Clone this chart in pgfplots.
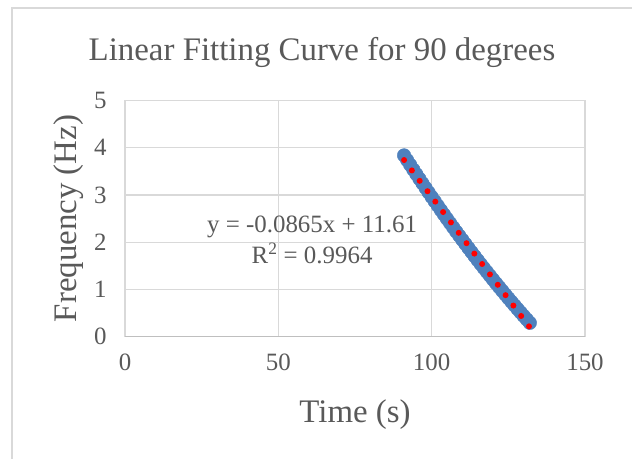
\documentclass[border=0pt]{standalone}
\usepackage{fontspec}
\setmainfont{Liberation Serif}
\usepackage{pgfplots}
\pgfplotsset{compat=1.18}
\definecolor{txt}{HTML}{595959}
\definecolor{grd}{HTML}{D9D9D9}
\definecolor{blu}{HTML}{4F81BD}

\begin{document}
\begin{tikzpicture}[x=1bp,y=1bp]
\useasboundingbox (0,0) rectangle (632,-459);
\fill[white] (0,0) rectangle (632,-459);
\draw[grd, line width=2bp] (12,-8) rectangle (700,-520);
\node[anchor=base, text=txt, font=\fontsize{33}{38}\selectfont] at (322,-60.7) {Linear Fitting Curve for 90 degrees};
\begin{axis}[
  at={(125bp,-336.5bp)}, anchor=south west,
  width=460bp, height=236bp, scale only axis,
  xmin=0, xmax=150, ymin=0, ymax=5,
  xtick={0,50,100,150}, ytick={0,1,2,3,4,5},
  major tick length=0pt,
  clip marker paths=true,
  grid=major, grid style={grd, line width=1.2bp},
  axis line style={grd, line width=1.2bp},
  ticklabel style={font=\fontsize{25}{30}\selectfont, text=txt},
  /pgf/number format/assume math mode=true,
  yticklabel style={xshift=-15bp},
  xticklabel style={yshift=-14bp},
  xlabel={Time (s)},
  ylabel={Frequency (Hz)},
  label style={font=\fontsize{33}{38}\selectfont, text=txt},
  xlabel style={at={(axis description cs:0.5,-0.3623)}, anchor=base},
  ylabel style={at={(axis description cs:-0.105,0.5)}, anchor=base},
]
\draw[black!25, line width=1.4bp] (axis cs:0,0) -- (axis cs:150,0);
\addplot[only marks, mark=*, mark size=6.8bp, color=blu, mark options={draw=blu, fill=blu}] coordinates {
(91,3.837) (92,3.736) (93,3.636) (94,3.537) (95,3.439) (96,3.341) (97,3.244)
(98,3.148) (99,3.052) (100,2.957) (101,2.863) (102,2.770) (103,2.677) (104,2.585)
(105,2.493) (106,2.403) (107,2.313) (108,2.223) (109,2.135) (110,2.047) (111,1.960)
(112,1.873) (113,1.787) (114,1.702) (115,1.618) (116,1.534) (117,1.451) (118,1.369)
(119,1.287) (120,1.206) (121,1.126) (122,1.047) (123,0.968) (124,0.890) (125,0.812)
(126,0.736) (127,0.660) (128,0.584) (129,0.510) (130,0.436) (131,0.363) (132,0.290)
};
\addplot[color=red, line width=6bp, line cap=round, dash pattern=on 0bp off 13bp] coordinates {
(91,3.7385) (132,0.192)
};
\node[align=center, text=txt, font=\fontsize{25}{30.5}\selectfont] at (axis cs:61,2.05)
  {y = -0.0865x + 11.61\\R\textsuperscript{2} = 0.9964};
\end{axis}
\end{tikzpicture}
\end{document}
